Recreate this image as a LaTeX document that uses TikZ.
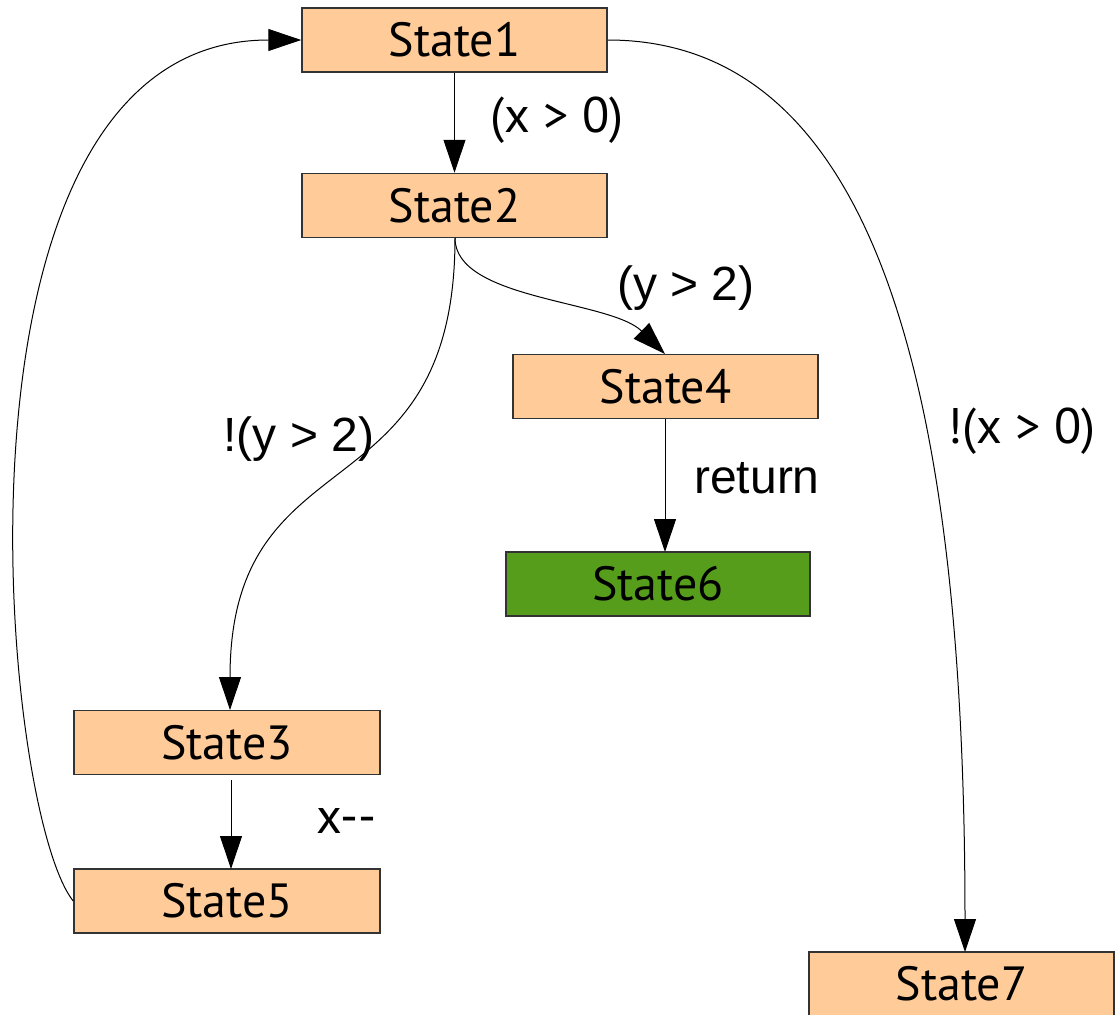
\documentclass[tikz,border=0pt]{standalone}
\usepackage{fontspec}
\setmainfont{PT Sans}
\newfontfamily\arialfont{Liberation Sans}
\usetikzlibrary{arrows.meta}
\definecolor{stateorange}{RGB}{255,204,153}
\definecolor{stategreen}{RGB}{87,157,28}
\definecolor{stateborder}{RGB}{51,51,51}
\tikzset{
  statebox/.style={draw=stateborder, line width=1.5pt, fill=stateorange,
    minimum width=305pt, minimum height=64pt, inner sep=0pt,
    font=\fontsize{48}{50}\selectfont},
  finalbox/.style={statebox, fill=stategreen},
  trans/.style={line width=1pt, -{Triangle[length=33pt, width=22pt]}},
  guardlabel/.style={anchor=base, inner sep=0pt, font=\fontsize{50}{54}\selectfont},
  arialguard/.style={anchor=base, inner sep=0pt, font=\arialfont\fontsize{48}{52}\selectfont}
}
\begin{document}
\begin{tikzpicture}[x=1pt, y=-1pt]
  \useasboundingbox (0,0) rectangle (1120,1015);
  \clip (0,0) rectangle (1120,1015);

  % states
  \node[statebox] (s1) at (454.5,40) {State1};
  \node[statebox] (s2) at (454.5,205.5) {State2};
  \node[statebox] (s4) at (665.5,386.5) {State4};
  \node[finalbox, minimum width=304pt] (s6) at (658,584) {State6};
  \node[statebox, minimum width=306pt] (s3) at (227,742.5) {State3};
  \node[statebox, minimum width=306pt] (s5) at (227,901) {State5};
  \node[statebox] (s7) at (961.5,984) {State7};

  % helper points on the box edges
  \coordinate (s2b) at (455,238);
  \coordinate (s3t) at (230,710);
  \coordinate (s3b) at (231,775);
  \coordinate (s5t) at (231,869);
  \coordinate (s4t) at (665,354);
  \coordinate (s4b) at (665,419);
  \coordinate (s6t) at (665,552);
  \coordinate (s7t) at (965,952);

  % transitions
  \draw[trans] (s1.south) -- (s2.north);
  \draw[trans] (s2b) .. controls (455,300) and (610,300) .. (s4t);
  \draw[trans] (s2b) .. controls (455,520) and (230,430) .. (s3t);
  \draw[trans] (s4b) -- (s6t);
  \draw[trans, shorten <=5pt] (s3b) -- (s5t);
  \draw[trans] (s5.west) .. controls (0,810) and (-70,40) .. (s1.west);
  \draw[trans] (s1.east) .. controls (880,40) and (965,400) .. (s7t);

  % guard labels
  \node[guardlabel] (g1) at (557,132) {(x > 0)};
  \node[arialguard] (g2) at (686,300) {(y > 2)};
  \node[arialguard] (g3) at (299,451) {!(y > 2)};
  \node[arialguard] (g4) at (757,493) {return};
  \node[guardlabel] (g5) at (1021.5,443) {!(x > 0)};
  \node[guardlabel] (g6) at (346.5,833) {x-{}-};
\end{tikzpicture}
\end{document}
